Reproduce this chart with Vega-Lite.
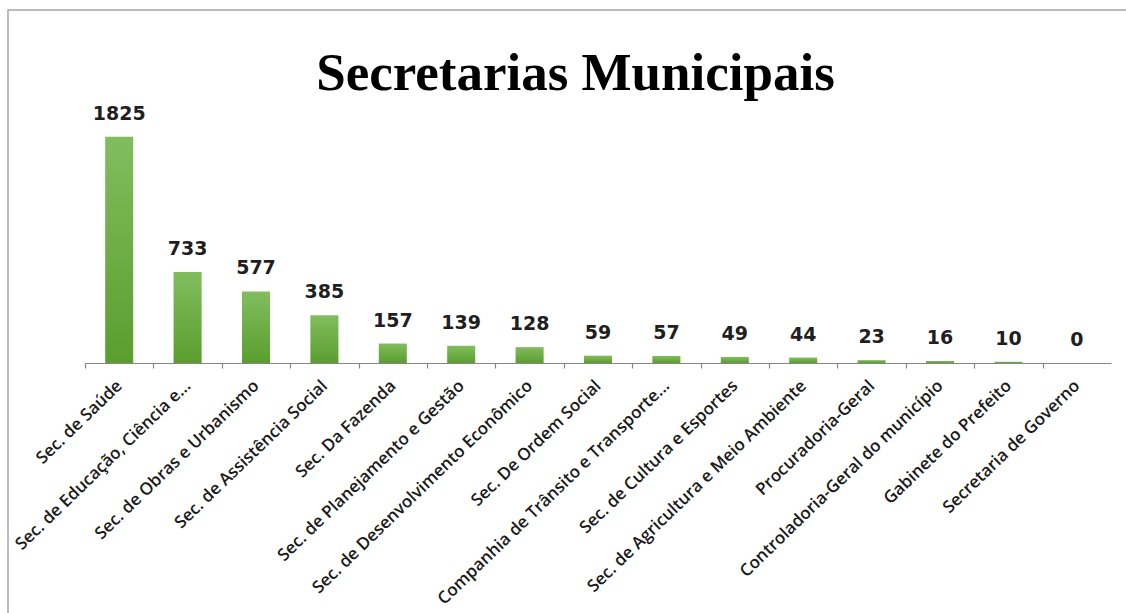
{
  "$schema": "https://vega.github.io/schema/vega-lite/v6.json",
  "width": 1119,
  "height": 604,
  "autosize": {"type": "none"},
  "padding": {"left": 8, "top": 10, "right": 0, "bottom": 0},
  "background": "white",
  "config": {"view": {"stroke": "#a6a6a6", "strokeWidth": 1.5}},
  "title": {
    "text": "Secretarias Municipais",
    "font": "Liberation Serif",
    "fontSize": 53,
    "fontWeight": "bold",
    "color": "#000000",
    "anchor": "middle",
    "frame": "group",
    "baseline": "alphabetic",
    "offset": -82,
    "dy": 51,
    "dx": 8
  },
  "data": {
    "values": [
      {"secretaria": "Sec. de Saúde", "total": 1825},
      {"secretaria": "Sec. de Educação, Ciência e...", "total": 733},
      {"secretaria": "Sec. de Obras e Urbanismo", "total": 577},
      {"secretaria": "Sec. de Assistência Social", "total": 385},
      {"secretaria": "Sec. Da Fazenda", "total": 157},
      {"secretaria": "Sec. de Planejamento e Gestão", "total": 139},
      {"secretaria": "Sec. de Desenvolvimento Econômico", "total": 128},
      {"secretaria": "Sec. De Ordem Social", "total": 59},
      {"secretaria": "Companhia de Trânsito e Transporte...", "total": 57},
      {"secretaria": "Sec. de Cultura e Esportes", "total": 49},
      {"secretaria": "Sec. de Agricultura e Meio Ambiente", "total": 44},
      {"secretaria": "Procuradoria-Geral", "total": 23},
      {"secretaria": "Controladoria-Geral do município", "total": 16},
      {"secretaria": "Gabinete do Prefeito", "total": 10},
      {"secretaria": "Secretaria de Governo", "total": 0}
    ]
  },
  "encoding": {
    "x": {
      "field": "secretaria",
      "type": "nominal",
      "sort": null,
      "scale": {"range": [77, 1103], "paddingInner": 0.59, "paddingOuter": 0.295},
      "axis": {
        "title": null,
        "offset": -251,
        "domainColor": "#868686",
        "domainWidth": 1.2,
        "tickColor": "#868686",
        "tickWidth": 1.2,
        "tickSize": 5,
        "tickOffset": -34.2,
        "labelOffset": 34.2,
        "labelAngle": -44,
        "labelAlign": "right",
        "labelBaseline": "middle",
        "labelPadding": 15,
        "labelFont": "Open Sans",
        "labelFontSize": 17,
        "labelFontWeight": 600,
        "labelColor": "#1a1a1a",
        "labelLimit": 0,
        "labelOverlap": false
      }
    },
    "y": {
      "field": "total",
      "type": "quantitative",
      "scale": {"domain": [0, 2000], "range": [353, 105], "nice": false},
      "axis": null
    }
  },
  "layer": [
    {
      "mark": {
        "type": "bar",
        "color": {
          "gradient": "linear",
          "x1": 0, "y1": 0, "x2": 0, "y2": 1,
          "stops": [
            {"offset": 0, "color": "#82bd5e"},
            {"offset": 1, "color": "#5a9e2e"}
          ]
        }
      }
    },
    {
      "mark": {
        "type": "text",
        "font": "DejaVu Sans",
        "fontSize": 19,
        "fontWeight": "bold",
        "color": "#1f1f1f",
        "baseline": "alphabetic",
        "dy": -17
      },
      "encoding": {"text": {"field": "total", "type": "quantitative"}}
    }
  ]
}
